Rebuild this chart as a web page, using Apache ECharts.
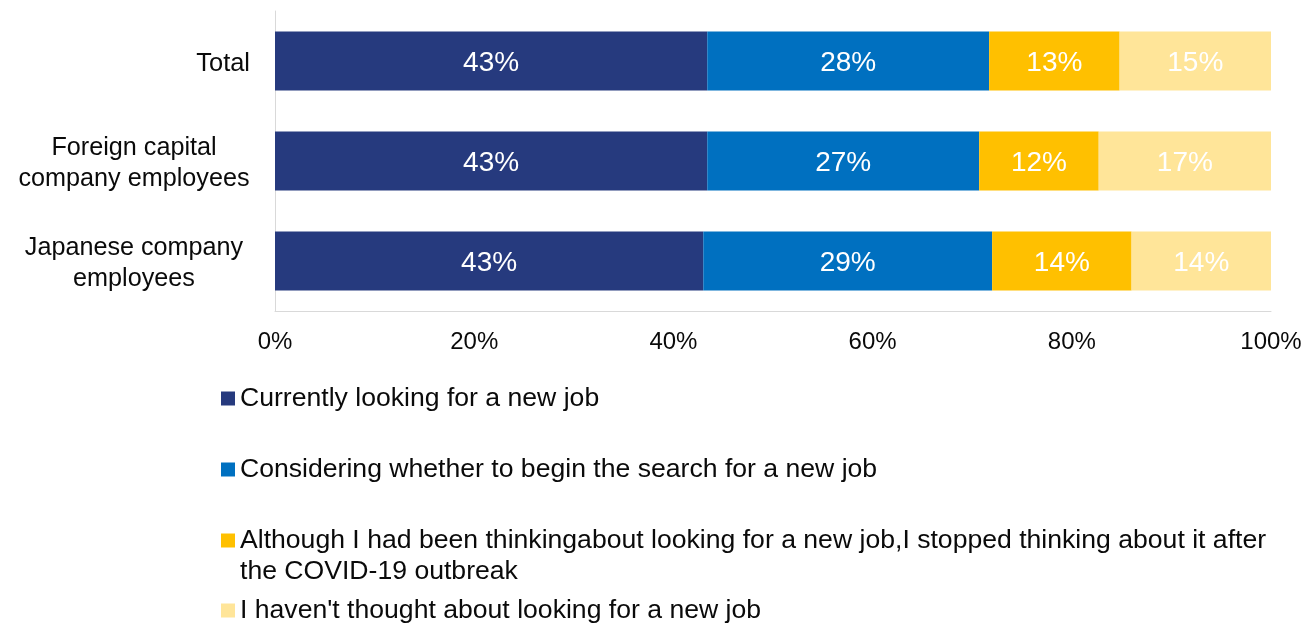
<!DOCTYPE html>
<html>
<head>
<meta charset="utf-8">
<script src="https://cdn.jsdelivr.net/npm/echarts@6/dist/echarts.min.js"></script>
<style>
  html, body { margin: 0; padding: 0; background: #fff; }
  #chart { width: 1316px; height: 627px; }
</style>
</head>
<body>
<div id="chart"></div>
<script>
// Groups shown on the vertical axis (top to bottom)
const categories = ['Total', 'Foreign capital\ncompany employees', 'Japanese company\nemployees'];

// Share of respondents per answer (%)
const currentlyLooking = [43.4, 43.4, 43.0];
const considering = [28.3, 27.3, 29.0];
const stoppedAfterCovid = [13.1, 12.0, 14.0];
const notThought = [15.2, 17.3, 14.0];

// Answer names used by the legend
const seriesNames = [
  'Currently looking for a new job',
  'Considering whether to begin the search for a new job',
  'Although I had been thinkingabout looking for a new job,I stopped thinking about it after the COVID-19 outbreak',
  "I haven't thought about looking for a new job"
];

// Percent tick values on the horizontal axis
const xTicks = [0, 20, 40, 60, 80, 100];

const colors = ['#263A7E', '#0070C0', '#FFC000', '#FFE599'];
const valueSets = [currentlyLooking, considering, stoppedAfterCovid, notThought];
const FONT = 'Liberation Sans, Arial, sans-serif';
const TEXT = '#0a0a0a';

const chart = echarts.init(document.getElementById('chart'), null, { renderer: 'canvas' });

const series = seriesNames.map((name, i) => ({
  name: name,
  type: 'bar',
  stack: 'share',
  barWidth: '59%',
  data: valueSets[i],
  itemStyle: { color: colors[i] },
  label: {
    show: true,
    position: 'inside',
    color: '#fff',
    fontSize: 28,
    fontFamily: FONT,
    offset: [0, 2],
    formatter: p => Math.round(p.value) + '%'
  },
  emphasis: { disabled: true }
}));

// One legend block per answer so each row sits at its own height
const legendTops = [385, 456, 527, 597];
const legends = seriesNames.map((name, i) => ({
  data: [name],
  orient: 'vertical',
  left: 221,
  top: legendTops[i],
  padding: 0,
  itemWidth: 14,
  itemHeight: 14,
  icon: 'rect',
  selectedMode: false,
  formatter: n => (i === 2 ? 'Although I had been thinkingabout looking for a new job,I stopped thinking about it after' : n),
  textStyle: { fontSize: 26.6, lineHeight: 26, color: TEXT, fontFamily: FONT }
}));

chart.setOption({
  animation: false,
  backgroundColor: '#fff',
  grid: { left: 275, right: 45, top: 11, height: 300, containLabel: false },
  legend: legends,
  xAxis: {
    type: 'value',
    min: xTicks[0],
    max: xTicks[xTicks.length - 1],
    interval: xTicks[1] - xTicks[0],
    axisLine: { show: true, lineStyle: { color: '#D9D9D9', width: 1 } },
    axisTick: { show: false },
    splitLine: { show: false },
    axisLabel: {
      formatter: '{value}%',
      fontSize: 24,
      color: TEXT,
      fontFamily: FONT,
      margin: 19
    }
  },
  yAxis: {
    type: 'category',
    inverse: true,
    data: categories,
    axisLine: { show: true, lineStyle: { color: '#D9D9D9', width: 1 } },
    axisTick: { show: false },
    axisLabel: {
      margin: 25,
      align: 'right',
      padding: [5, 0, 0, 0],
      formatter: v => {
        const lines = v.split('\n');
        if (lines.length === 1) return '{t|' + v + '}';
        return lines.map(l => '{c|' + l + '}').join('\n');
      },
      rich: {
        t: { fontSize: 25.4, lineHeight: 31, color: TEXT, fontFamily: FONT },
        c: { fontSize: 25.2, lineHeight: 31, color: TEXT, fontFamily: FONT, width: 232, align: 'center' }
      }
    }
  },
  graphic: [{
    type: 'text',
    left: 240,
    top: 558,
    style: {
      text: 'the COVID-19 outbreak',
      fontSize: 26.6,
      fill: TEXT,
      fontFamily: FONT
    }
  }],
  series: series
});
</script>
</body>
</html>
